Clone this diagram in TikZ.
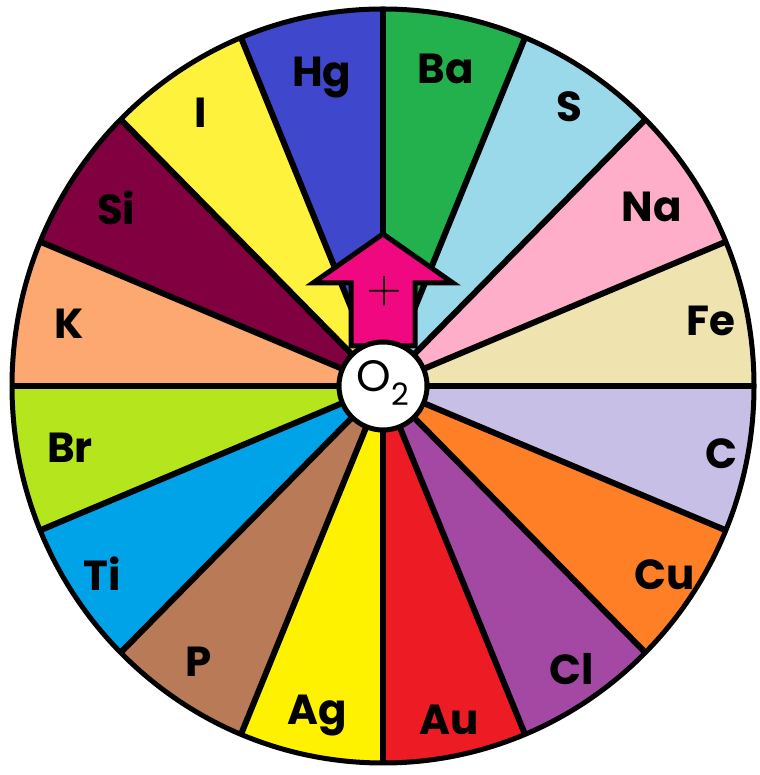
\documentclass[tikz,border=0pt]{standalone}
\usepackage{fontspec}
\setmainfont{Poppins}
\usetikzlibrary{calc}

\definecolor{cBa}{RGB}{34,177,76}
\definecolor{cS}{RGB}{153,217,234}
\definecolor{cNa}{RGB}{255,174,201}
\definecolor{cFe}{RGB}{239,228,176}
\definecolor{cC}{RGB}{200,191,231}
\definecolor{cCu}{RGB}{255,127,39}
\definecolor{cCl}{RGB}{163,73,164}
\definecolor{cAu}{RGB}{237,28,36}
\definecolor{cAg}{RGB}{255,242,0}
\definecolor{cP}{RGB}{185,122,87}
\definecolor{cTi}{RGB}{0,162,232}
\definecolor{cBr}{RGB}{181,230,29}
\definecolor{cK}{RGB}{253,168,112}
\definecolor{cSi}{RGB}{128,0,64}
\definecolor{cI}{RGB}{255,242,60}
\definecolor{cHg}{RGB}{63,72,204}
\definecolor{arrowpink}{RGB}{240,8,128}

\begin{document}
\begin{tikzpicture}[
        x=1pt, y=1pt,
        elem/.style={font=\fontsize{42}{42}\selectfont\bfseries, inner sep=0pt},
        spoke/.style={line width=6pt},
        rim/.style={line width=5pt},
        hubdisc/.style={circle, draw, line width=5pt, fill=white, minimum size=88pt, inner sep=0pt},
        upshape/.style={draw, line width=5pt, fill=arrowpink, line join=miter}
    ]
    \useasboundingbox (0,0) rectangle (759,775);
    \coordinate (hub) at (383,389);

    % Sectors and labels
    \foreach \el/\rad [count=\i from 0] in {Ba/323,S/336,Na/323,Fe/334,C/345,Cu/339,Cl/340,Au/340,
            Ag/336,P/332,Ti/338,Br/319,K/320,Si/321,I/329,Hg/314} {
        \pgfmathsetmacro\a{90-22.5*\i}
        \pgfmathsetmacro\b{\a-22.5}
        \pgfmathsetmacro\m{\a-11.25}
        \fill[c\el] (hub) -- ($(hub)+(\a:371 and 377)$)
            arc[start angle=\a, end angle=\b, x radius=371, y radius=377] -- cycle;
        \node[elem] (lbl\el) at ($(hub)+(\m:\rad)$) {\el};
    }

    % Spokes
    \foreach \i in {0,...,15} {
        \coordinate (rim\i) at ($(hub)+(90-22.5*\i:371 and 377)$);
        \draw[spoke] (hub) -- (rim\i);
    }
    \draw[rim] (hub) ellipse[x radius=371, y radius=377];

    % Arrow
    \draw[upshape] ($(hub)+(-32,40)$) -- ++(0,63) -- ++(-38,0) -- ($(hub)+(0,152)$)
        -- ($(hub)+(70,103)$) -- ++(-38,0) -- ++(0,-63) -- cycle;
    \node[inner sep=0pt] (plus) at ($(hub)+(1,95)$) {\scalebox{4.5}{$+$}};

    % Centre
    \node[hubdisc] (oxygen) at (hub) {};
    \node[font=\fontsize{44}{44}\selectfont, inner sep=0pt] (otext) at ($(hub)+(0,3)$) {O\textsubscript{2}};

\end{tikzpicture}
\end{document}
